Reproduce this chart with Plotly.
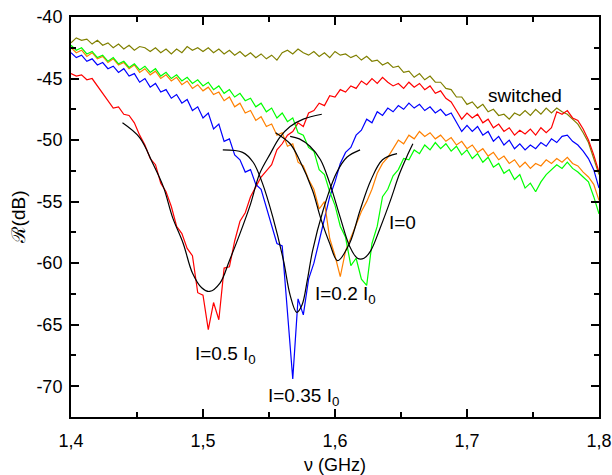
import plotly.graph_objects as go

# frequency grid (GHz), 0.004 GHz step from 1.400 to 1.800
freq = [round(1.400 + 0.004 * i, 3) for i in range(101)]

switched = [-42.1, -41.7, -41.9, -41.8, -42.2, -41.9, -42.3, -42.1, -42.5, -42.2,
            -42.6, -42.3, -42.7, -42.4, -42.5, -42.8, -42.5, -42.9, -42.6, -43.0,
            -42.6, -42.9, -42.4, -42.7, -42.5, -42.8, -42.5, -42.9, -42.6, -43.0,
            -42.7, -43.1, -42.8, -43.2, -42.9, -43.3, -43.0, -43.4, -43.1, -43.5,
            -42.9, -42.7, -43.0, -42.6, -42.9, -43.1, -42.8, -43.2, -42.9, -43.3,
            -42.8, -43.1, -43.0, -43.3, -43.1, -43.5, -43.2, -43.6, -43.5, -43.9,
            -43.7, -44.1, -44.0, -44.5, -44.4, -44.9, -44.6, -45.1, -44.8, -45.3,
            -45.3, -45.8, -45.9, -46.5, -46.5, -47.1, -46.9, -47.4, -47.1, -47.7,
            -47.5, -48.0, -47.9, -48.3, -47.8, -48.0, -47.6, -48.0, -47.5, -47.9,
            -47.4, -47.8, -47.4, -47.7, -47.9, -48.3, -48.7, -49.4, -50.2, -51.5,
            -52.8]

i_05 = [-44.6, -44.8, -44.7, -45.1, -45.0, -45.6, -46.2, -46.9, -47.4, -47.3,
        -47.9, -48.0, -48.6, -49.6, -50.4, -51.5, -52.0, -53.5, -54.2, -55.4,
        -57.0, -57.6, -58.8, -59.4, -62.4, -62.6, -65.4, -63.2, -64.6, -60.4,
        -60.3, -58.2, -56.6, -55.9, -54.6, -53.8, -53.0, -52.5, -52.0, -50.8,
        -50.3, -49.6, -49.3, -48.6, -48.9, -47.8, -47.6, -47.0, -47.2, -46.4,
        -46.5, -45.9, -46.1, -45.6, -45.8, -45.2, -45.5, -45.0, -45.4, -44.9,
        -45.3, -45.6, -45.4, -45.8, -45.3, -45.7, -45.4, -45.9, -45.6, -46.2,
        -46.0, -46.6, -46.9, -47.6, -48.3, -47.8, -48.2, -47.9, -48.6, -48.3,
        -49.0, -48.7, -49.3, -49.0, -49.6, -49.2, -49.5, -49.1, -49.6, -49.0,
        -49.4, -49.0, -47.7, -47.9, -47.6, -48.2, -48.4, -49.1, -50.0, -51.2,
        -52.6]

i_035 = [-42.9, -43.3, -43.1, -43.6, -43.4, -43.9, -43.7, -44.2, -44.0, -44.5,
         -44.2, -44.8, -44.6, -45.3, -45.0, -45.7, -45.4, -46.1, -45.9, -46.6,
         -46.3, -47.0, -46.7, -47.6, -47.3, -48.2, -47.8, -49.1, -48.7, -50.1,
         -49.9, -51.2, -51.6, -52.6, -52.4, -53.6, -54.0, -55.4, -57.0, -58.4,
         -58.6, -63.8, -69.4, -62.9, -64.2, -61.3, -60.0, -58.2, -56.4, -54.6,
         -53.4, -51.9, -51.0, -50.6, -49.6, -49.2, -48.3, -48.6, -47.7, -48.0,
         -47.4, -47.7, -47.2, -47.5, -47.0, -47.4, -47.1, -47.6, -47.3, -47.8,
         -47.5, -48.0, -47.8, -48.6, -49.3, -48.8, -49.3, -48.9, -49.6, -49.3,
         -50.1, -49.7, -50.4, -50.0, -50.7, -50.3, -50.8, -50.4, -50.7, -50.2,
         -50.5, -49.9, -50.2, -49.7, -49.6, -50.1, -50.4, -50.9, -51.5, -52.4,
         -53.9]

i_02 = [-42.5, -42.9, -42.7, -43.2, -42.9, -43.4, -43.2, -43.7, -43.4, -43.9,
        -43.7, -44.2, -43.9, -44.5, -44.2, -44.7, -44.4, -45.0, -44.7, -45.2,
        -44.9, -45.5, -45.2, -45.8, -45.5, -46.0, -45.7, -46.3, -46.1, -46.8,
        -46.5, -47.3, -47.0, -47.8, -47.6, -48.4, -48.1, -48.9, -48.7, -49.6,
        -49.4, -50.5, -50.3, -51.8, -52.1, -53.2, -54.0, -55.6, -55.0, -58.0,
        -59.4, -61.1, -59.0, -57.9, -56.9, -55.8, -55.0, -54.0, -52.7, -51.9,
        -51.4, -50.7, -50.0, -50.3, -49.6, -49.9, -49.3, -49.7, -49.4, -49.9,
        -49.6, -50.1, -49.8, -50.4, -50.1, -50.7, -50.4, -51.0, -50.7, -51.3,
        -51.0, -51.6, -51.3, -51.9, -51.6, -52.2, -51.8, -52.3, -51.9, -52.1,
        -51.6, -51.9, -51.5, -51.8, -51.4, -51.9, -52.1, -52.6, -53.0, -53.6,
        -54.9]

i_0 = [-42.3, -42.7, -42.5, -43.0, -42.8, -43.3, -43.1, -43.6, -43.3, -43.8,
       -43.6, -44.1, -43.8, -44.3, -44.0, -44.5, -44.2, -44.8, -44.5, -45.0,
       -44.7, -45.2, -44.9, -45.4, -45.1, -45.6, -45.3, -45.9, -45.6, -46.2,
       -45.9, -46.5, -46.2, -46.8, -46.6, -47.3, -47.0, -47.7, -47.4, -48.2,
       -47.8, -48.5, -48.2, -49.4, -49.6, -50.6, -50.9, -52.4, -52.8, -54.2,
       -55.3, -57.0, -57.9, -60.2, -59.6, -61.3, -61.8, -58.4, -57.0, -54.6,
       -54.0, -52.9, -52.4, -51.5, -51.6, -50.8, -51.1, -50.4, -50.8, -50.2,
       -50.7, -50.3, -50.9, -50.5, -51.2, -50.8, -51.5, -51.1, -51.8, -51.4,
       -52.2, -51.9, -52.7, -52.4, -53.2, -52.8, -53.9, -53.5, -54.2, -53.4,
       -52.8, -52.4, -52.0, -52.3, -51.8, -52.3, -52.6, -53.0, -53.4, -54.6,
       -56.0]

# fitted curves
fit05_x = [1.439, 1.452, 1.462, 1.470, 1.477, 1.485, 1.492, 1.499, 1.505, 1.513,
           1.520, 1.528, 1.536, 1.543, 1.551, 1.558, 1.566, 1.576, 1.590]
fit05_y = [-48.6, -49.8, -51.9, -53.8, -56.3, -58.4, -60.8, -62.0, -62.3, -61.6,
           -59.8, -57.6, -55.2, -52.7, -51.1, -49.8, -48.9, -48.3, -47.9]

fit035_x = [1.515, 1.530, 1.538, 1.545, 1.553, 1.561, 1.566, 1.571, 1.575, 1.579,
            1.583, 1.591, 1.601, 1.609, 1.619]
fit035_y = [-50.8, -51.0, -51.8, -53.5, -56.3, -59.8, -62.6, -64.0, -63.4, -61.4,
            -59.0, -55.7, -52.7, -51.4, -50.8]

fit02_x = [1.555, 1.566, 1.573, 1.583, 1.589, 1.596, 1.602, 1.611, 1.619, 1.627,
           1.636, 1.647]
fit02_y = [-49.4, -50.3, -51.6, -54.1, -56.3, -58.4, -59.8, -58.4, -55.7, -53.3,
           -51.6, -51.1]

fit0_x = [1.566, 1.573, 1.581, 1.589, 1.596, 1.604, 1.611, 1.617, 1.622, 1.627,
          1.634, 1.642, 1.649, 1.655, 1.659]
fit0_y = [-49.7, -49.9, -50.5, -51.6, -53.5, -56.3, -58.6, -59.6, -59.6, -59.0,
          -57.2, -54.9, -52.7, -51.2, -50.3]

x_tickvals = [1.4, 1.5, 1.6, 1.7, 1.8]
x_ticktext = ["1,4", "1,5", "1,6", "1,7", "1,8"]
y_tickvals = [-40, -45, -50, -55, -60, -65, -70]
y_ticktext = ["-40", "-45", "-50", "-55", "-60", "-65", "-70"]

labels = [
    ("switched", 1.744, -46.4),
    ("I=0", 1.651, -56.7),
    ("I=0.2 I<sub>0</sub>", 1.6076, -62.6),
    ("I=0.35 I<sub>0</sub>", 1.5758, -70.9),
    ("I=0.5 I<sub>0</sub>", 1.517, -67.5),
]

FONT = "Liberation Sans, Arial, sans-serif"

fig = go.Figure()
series = [
    (switched, "#808000"),
    (i_05, "#ff0000"),
    (i_035, "#0000ff"),
    (i_02, "#ff8000"),
    (i_0, "#00ff00"),
]
for ys, col in series:
    fig.add_trace(go.Scatter(x=freq, y=ys, mode="lines",
                             line=dict(color=col, width=1.2), showlegend=False))

for fx, fy in [(fit05_x, fit05_y), (fit035_x, fit035_y), (fit02_x, fit02_y), (fit0_x, fit0_y)]:
    fig.add_trace(go.Scatter(x=fx, y=fy, mode="lines",
                             line=dict(color="black", width=1.2, shape="spline", smoothing=1.0),
                             showlegend=False))

for txt, ax, ay in labels:
    fig.add_annotation(x=ax, y=ay, text=txt, showarrow=False,
                       font=dict(family=FONT, size=19, color="black"),
                       xanchor="center", yanchor="middle")

axis_common = dict(
    showline=True, linecolor="black", linewidth=2, mirror="ticks",
    ticks="inside", ticklen=8, tickwidth=1.5, tickcolor="black",
    showgrid=False, zeroline=False, automargin=False,
    tickfont=dict(family=FONT, size=18, color="black"),
)

fig.update_xaxes(range=[1.4, 1.8], tickvals=x_tickvals, ticktext=x_ticktext,
                 ticklabelstandoff=6,
                 minor=dict(ticks="inside", ticklen=5, tickwidth=1.5, tickcolor="black", dtick=0.05, tick0=1.4),
                 title=dict(text="ν (GHz)", font=dict(family=FONT, size=18, color="black"), standoff=10),
                 **axis_common)
fig.update_yaxes(range=[-72.5, -40], tickvals=y_tickvals, ticktext=y_ticktext,
                 ticklabelstandoff=3,
                 minor=dict(ticks="inside", ticklen=5, tickwidth=1.5, tickcolor="black", dtick=2.5, tick0=-40),
                 title=dict(text="ℛ(dB)", font=dict(family=FONT, size=19, color="black"), standoff=6),
                 **axis_common)

fig.update_layout(
    width=612, height=475,
    margin=dict(l=71, r=13, t=17, b=58),
    plot_bgcolor="white", paper_bgcolor="white",
    showlegend=False,
)

fig.write_html("out.html", config={"displayModeBar": False},
               post_script="document.body.style.margin='0';document.body.style.padding='0';")
